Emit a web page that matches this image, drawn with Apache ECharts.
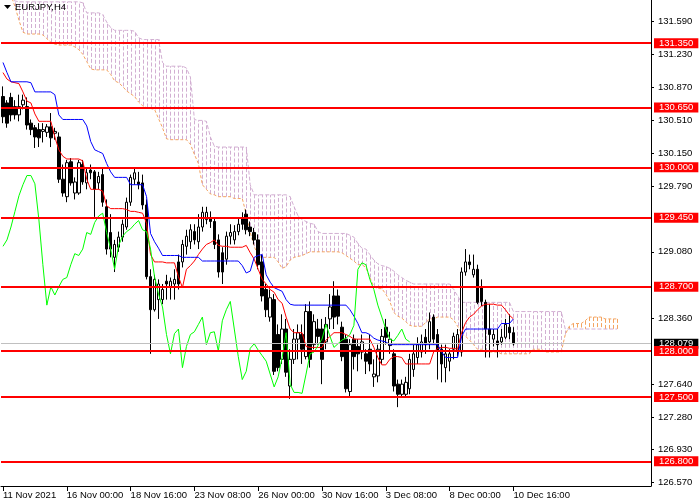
<!DOCTYPE html>
<html><head><meta charset="utf-8">
<script src="https://cdn.jsdelivr.net/npm/echarts@6/dist/echarts.min.js"></script>
<style>html,body{margin:0;padding:0;background:#fff}#c{width:700px;height:500px}</style>
</head><body><div id="c"></div>
<script>
const symbolTitle = 'EURJPY,H4';
const tickLabels = ['11 Nov 2021','16 Nov 00:00','18 Nov 16:00','23 Nov 08:00','26 Nov 00:00','30 Nov 16:00','3 Dec 08:00','8 Dec 00:00','10 Dec 16:00'];
const priceTicks = [131.590,131.230,130.870,130.510,130.150,129.790,129.080,128.360,127.640,127.280,126.930,126.570];
const levels = [131.350,130.650,130.000,129.450,128.700,128.000,127.500,126.800];
const lastPrice = 128.079;
// [open, close, low, high]
const candles = [
[130.77,130.55,130.48,130.88],[130.70,130.48,130.43,130.73],[130.76,130.57,130.50,130.81],[130.66,130.57,130.52,130.73],
[130.57,130.66,130.50,130.79],[130.68,130.73,130.63,130.79],[130.66,130.46,130.41,130.76],[130.48,130.41,130.35,130.52],
[130.43,130.33,130.21,130.46],[130.41,130.32,130.22,130.48],[130.39,130.41,130.27,130.48],[130.38,130.44,130.33,130.47],
[130.44,130.32,130.22,130.59],[130.37,130.39,130.30,130.43],[130.33,129.87,129.83,130.38],[129.87,129.72,129.68,130.03],
[129.68,130.05,129.62,130.08],[130.06,129.83,129.80,130.10],[129.72,129.84,129.65,129.89],[129.72,130.05,129.70,130.08],
[130.03,129.84,129.81,130.08],[129.83,129.94,129.76,130.00],[129.97,129.94,129.87,130.03],[129.95,129.76,129.46,129.97],
[129.83,129.90,129.76,129.95],[129.92,129.62,129.57,130.00],[129.57,129.11,129.05,129.65],[129.29,129.11,129.02,129.49],
[129.02,129.16,128.86,129.21],[129.13,129.24,129.08,129.30],[129.24,129.38,129.19,129.43],[129.35,129.62,129.32,129.67],
[129.62,129.89,129.58,129.92],[129.87,129.94,129.81,130.00],[129.84,129.81,129.76,129.95],[129.83,129.59,129.54,129.92],
[129.59,128.81,128.78,129.65],[128.81,128.45,127.97,128.89],[128.45,128.78,128.43,128.83],[128.56,128.73,128.35,128.78],
[128.56,128.67,128.51,128.73],[128.76,128.73,128.56,128.83],[128.70,128.76,128.56,128.80],[128.73,128.78,128.56,128.89],
[128.97,128.73,128.67,129.05],[128.97,129.16,128.91,129.21],[129.14,129.25,129.05,129.32],[129.19,129.32,129.11,129.38],
[129.30,129.21,129.16,129.38],[129.19,129.35,129.11,129.49],[129.35,129.51,129.30,129.57],[129.43,129.51,129.38,129.57],
[129.45,129.41,129.34,129.52],[129.41,129.16,129.11,129.45],[129.21,128.86,128.80,129.27],[129.07,128.86,128.73,129.13],
[129.00,129.25,128.94,129.30],[129.25,129.29,129.16,129.38],[129.21,129.30,129.16,129.37],[129.30,129.38,129.26,129.45],
[129.45,129.38,129.32,129.51],[129.49,129.32,129.27,129.54],[129.35,129.30,129.25,129.41],[129.29,129.21,129.16,129.34],
[129.21,128.94,128.89,129.27],[128.97,128.60,128.54,129.05],[128.67,128.45,128.37,128.73],[128.37,128.58,128.32,128.67],
[128.56,127.78,127.74,128.62],[128.18,127.82,127.78,128.29],[127.91,128.24,127.86,128.40],[128.24,127.77,127.72,128.35],
[127.62,127.91,127.48,128.02],[127.91,128.13,127.86,128.24],[128.13,128.20,127.91,128.29],[128.18,128.02,127.86,128.29],
[127.94,128.43,127.91,128.51],[128.43,127.91,127.82,128.54],[128.07,128.32,128.02,128.40],[128.24,128.16,128.07,128.35],
[128.24,127.91,127.64,128.35],[128.10,128.29,128.02,128.37],[128.35,128.48,128.24,128.62],[128.60,128.37,128.24,128.76],
[128.60,128.38,128.29,128.67],[128.26,127.94,127.89,128.32],[128.13,127.59,127.55,128.18],[127.56,128.07,127.50,128.13],
[128.13,127.94,127.80,128.18],[128.05,127.97,127.78,128.13],[127.99,128.10,127.91,128.18],[127.97,127.89,127.75,128.02],
[128.02,127.86,127.78,128.18],[127.72,127.75,127.61,127.91],[127.73,128.02,127.66,128.07],[127.91,128.16,127.86,128.24],
[128.26,128.15,128.07,128.35],[128.06,128.13,127.97,128.21],[127.97,127.62,127.56,128.02],[127.64,127.53,127.39,127.69],
[127.53,127.64,127.50,127.69],[127.53,127.66,127.50,127.72],[127.59,127.91,127.53,127.97],[127.80,127.97,127.72,128.07],
[127.93,128.07,127.86,128.15],[127.99,128.10,127.93,128.18],[128.15,128.07,127.97,128.24],[128.10,128.32,128.02,128.42],
[128.37,128.13,128.07,128.40],[128.18,128.00,127.69,128.24],[128.02,127.86,127.66,128.07],[127.82,127.97,127.66,128.07],
[127.89,127.97,127.78,128.02],[128.02,128.16,127.91,128.20],[128.00,128.18,127.94,128.24],[127.99,128.86,127.94,128.91],
[128.86,128.97,128.82,129.11],[128.97,128.94,128.89,129.05],[128.83,128.89,128.80,129.05],[128.89,128.53,128.51,128.94],
[128.69,128.54,128.49,128.78],[128.53,128.24,127.93,128.56],[128.24,128.18,127.93,128.51],[128.13,128.18,128.05,128.24],
[128.11,128.07,127.93,128.24],[128.10,128.15,128.07,128.24],[128.15,128.29,128.13,128.35],[128.26,128.20,128.13,128.40],
[128.20,128.079,128.06,128.26]
];
const tenkan = [
131.03,130.96,130.93,130.92,130.91,130.82,130.72,130.70,130.58,130.50,
130.50,130.50,130.50,130.33,130.19,130.12,130.09,130.09,130.09,130.09,
130.07,129.87,129.76,129.76,129.76,129.74,129.58,129.55,129.55,129.55,
129.55,129.54,129.52,129.52,129.51,129.50,129.39,129.05,128.97,128.97,
128.97,128.96,128.96,128.96,128.81,128.69,128.89,128.93,128.98,129.05,
129.11,129.16,129.18,129.21,129.15,129.14,129.14,129.13,129.13,129.13,
129.13,129.15,129.07,129.00,128.89,128.78,128.73,128.67,128.64,128.56,
128.52,128.37,128.24,128.20,128.20,128.20,128.05,128.04,128.04,128.04,
128.04,128.12,128.16,128.20,128.20,128.20,128.18,128.16,128.13,128.13,
128.13,128.13,128.13,128.04,127.93,127.85,127.85,127.91,127.94,127.94,
127.93,127.86,127.86,127.86,127.86,127.86,127.86,127.86,127.99,128.03,
128.04,128.04,128.03,128.03,128.02,128.20,128.31,128.37,128.40,128.45,
128.49,128.51,128.51,128.51,128.50,128.50,128.45,128.39,128.35
];
const kijun = [
131.14,131.03,130.93,130.93,130.93,130.93,130.93,130.92,130.82,130.82,
130.82,130.82,130.82,130.79,130.57,130.52,130.52,130.52,130.52,130.52,
130.52,130.45,130.28,130.19,130.17,130.15,130.04,129.95,129.89,129.89,
129.89,129.89,129.81,129.81,129.81,129.81,129.68,129.28,129.19,129.12,
129.04,129.04,129.04,129.04,129.04,129.02,129.02,129.02,129.02,129.02,
128.98,128.98,128.98,128.98,128.98,128.98,128.98,128.98,128.98,128.98,
128.93,128.85,128.87,129.02,129.04,129.05,128.83,128.75,128.69,128.67,
128.65,128.56,128.51,128.50,128.50,128.50,128.50,128.50,128.50,128.50,
128.50,128.50,128.50,128.50,128.50,128.50,128.50,128.45,128.38,128.30,
128.20,128.20,128.18,128.14,128.12,128.11,128.10,128.07,128.07,128.07,
128.07,128.07,128.07,128.07,128.07,128.07,128.07,128.07,128.07,128.07,
127.99,127.93,127.93,127.93,127.93,128.16,128.24,128.24,128.24,128.24,
128.24,128.24,128.24,128.24,128.24,128.30,128.30,128.30,128.35
];
const chikou = [
129.14,129.21,129.35,129.52,129.69,129.81,129.91,129.91,129.82,129.43,
128.94,128.50,128.70,128.61,128.70,128.78,128.80,128.94,129.06,129.04,
129.11,129.29,129.27,129.40,129.47,129.50,129.29,129.11,128.89,129.15,
129.25,129.30,129.33,129.38,129.42,129.32,129.30,129.11,128.81,128.62,
128.48,128.18,127.97,128.19,128.24,127.82,128.05,128.18,128.21,128.29,
128.37,128.07,128.20,128.21,128.00,128.33,128.45,128.54,128.24,127.94,
127.69,127.78,128.03,128.08,128.01,127.95,127.89,127.75,127.61,127.72,
127.93,128.20,127.64,127.55,127.55,127.54,127.75,127.97,127.99,128.06,
128.13,128.29,128.16,128.04,128.08,128.12,128.14,128.18,128.28,128.89,
128.96,128.94,128.78,128.67,128.50,128.37,128.24,128.13,128.11,128.17,
128.24,128.13,128.10
];
const spanA = [
132.09,131.98,131.87,131.75,131.60,131.47,131.45,131.45,131.45,131.45,
131.44,131.40,131.36,131.34,131.33,131.33,131.33,131.33,131.31,131.28,
131.23,131.15,131.07,131.06,131.06,131.06,131.06,131.01,130.94,130.92,
130.88,130.83,130.80,130.77,130.71,130.67,130.65,130.64,130.63,130.53,
130.43,130.31,130.30,130.30,130.30,130.30,130.30,130.25,130.14,130.04,
129.81,129.76,129.71,129.70,129.68,129.68,129.68,129.68,129.66,129.66,
129.66,129.49,129.29,129.14,129.03,129.02,129.02,129.02,129.02,128.97,
128.90,128.92,128.99,129.02,129.03,129.04,129.06,129.08,129.08,129.08,
129.08,129.08,129.08,129.08,129.08,129.07,129.04,129.01,128.98,128.94,
128.94,128.91,128.80,128.70,128.68,128.68,128.62,128.54,128.42,128.38,
128.36,128.32,128.28,128.27,128.27,128.27,128.31,128.35,128.35,128.37,
128.37,128.37,128.37,128.34,128.27,128.19,128.16,128.12,128.07,128.02,
128.02,127.99,127.99,127.99,127.99,127.97,127.97,127.97,127.97,127.97,
127.97,127.97,127.97,128.02,128.02,128.02,127.99,127.99,127.99,127.99,
127.99,128.18,128.27,128.30,128.30,128.30,128.33,128.37,128.37,128.37,
128.37,128.35,128.35,128.35,128.35
];
const spanB = [
131.87,131.85,131.83,131.81,131.80,131.80,131.80,131.80,131.80,131.80,
131.80,131.80,131.80,131.80,131.80,131.80,131.80,131.80,131.80,131.80,
131.79,131.68,131.68,131.68,131.68,131.66,131.58,131.52,131.49,131.49,
131.49,131.49,131.49,131.48,131.41,131.39,131.39,131.39,131.39,131.39,
131.14,131.10,131.10,131.10,131.10,131.10,131.08,130.98,130.52,130.51,
130.51,130.50,130.33,130.23,130.22,130.22,130.22,130.22,130.22,130.22,
130.22,130.22,129.81,129.70,129.70,129.70,129.70,129.70,129.70,129.70,
129.70,129.70,129.68,129.57,129.47,129.43,129.41,129.39,129.38,129.30,
129.28,129.28,129.28,129.28,129.28,129.28,129.28,129.26,129.24,129.17,
129.12,129.11,129.05,128.99,128.95,128.93,128.92,128.90,128.87,128.83,
128.80,128.77,128.75,128.73,128.73,128.73,128.73,128.73,128.73,128.73,
128.73,128.73,128.73,128.67,128.60,128.53,128.53,128.53,128.53,128.53,
128.53,128.53,128.53,128.53,128.53,128.53,128.53,128.53,128.43,128.43,
128.43,128.43,128.43,128.43,128.43,128.43,128.43,128.43,128.43,128.43,
128.43,128.24,128.24,128.24,128.24,128.24,128.24,128.24,128.24,128.24,
128.24,128.24,128.24,128.24,128.24
];
const barsPerTick = 16;
const totalSlots = 163;

const FONT = 'Liberation Sans';
const cats = Array.from({length: totalSlots}, (_, i) => String(i));
const showTick = (i) => i % barsPerTick === 0 && i / barsPerTick < tickLabels.length;
const cloudData = spanA.map((a, i) => [i, a, spanB[i]]);

const chart = echarts.init(document.getElementById('c'), null, {renderer: 'canvas'});
chart.setOption({
  animation: false,
  backgroundColor: '#ffffff',
  textStyle: {fontFamily: FONT},
  grid: {left: -1, right: 49, top: 0, bottom: 13, containLabel: false},
  graphic: [
    {type: 'polygon', shape: {points: [[4, 5], [11, 5], [7.5, 9]]}, style: {fill: '#000'}, z: 100},
    {type: 'text', left: 15, top: 2, style: {text: symbolTitle, fill: '#000', font: '9.5px "Liberation Sans"'}, z: 100}
  ],
  xAxis: {
    type: 'category', data: cats, boundaryGap: true,
    axisLine: {show: true, lineStyle: {color: '#000', width: 1}},
    axisTick: {show: true, alignWithLabel: true, interval: (i) => showTick(i), length: 5, lineStyle: {color: '#000'}},
    axisLabel: {
      show: true, interval: (i) => showTick(i), align: 'left', margin: 4,
      fontSize: 9.5, color: '#000', fontFamily: FONT,
      formatter: (v, i) => showTick(i) ? tickLabels[i / barsPerTick] : ''
    },
    splitLine: {show: false}
  },
  yAxis: {
    type: 'value', position: 'right', min: 126.532, max: 131.82, scale: true,
    axisLine: {show: true, lineStyle: {color: '#000', width: 1}},
    axisTick: {show: true, length: 3, customValues: priceTicks, lineStyle: {color: '#000'}},
    axisLabel: {show: true, customValues: priceTicks, margin: 7, fontSize: 9.5, color: '#000', fontFamily: FONT,
      formatter: (v) => v.toFixed(3)},
    splitLine: {show: false}
  },
  series: [
    {
      type: 'custom', name: 'cloud', z: 1, clip: true,
      data: cloudData, encode: {x: 0, y: [1, 2]},
      renderItem: function (params, api) {
        const i = api.value(0), a = api.value(1), b = api.value(2);
        const p1 = api.coord([i, a]);
        const p2 = api.coord([i, b]);
        const x = Math.round(p1[0]) + 0.5;
        return {type: 'line', shape: {x1: x, y1: p1[1], x2: x, y2: p2[1]},
          style: {stroke: b >= a ? '#D2AFD2' : '#F4A460', lineWidth: 1, lineDash: [4, 2]}};
      }
    },
    {type: 'line', name: 'Senkou A', data: spanA, z: 2, showSymbol: false, symbol: 'none',
      lineStyle: {color: '#F4A460', width: 1, type: [3, 2]}},
    {type: 'line', name: 'Senkou B', data: spanB, z: 2, showSymbol: false, symbol: 'none',
      lineStyle: {color: '#D2AFD2', width: 1, type: [4, 2]}},
    {type: 'line', name: 'price', data: [], z: 2,
      markLine: {silent: true, symbol: ['none', 'none'], animation: false,
        lineStyle: {color: '#C0C0C0', width: 1, type: 'solid'},
        label: {show: true, position: 'end', distance: 3, formatter: () => lastPrice.toFixed(3),
          color: '#fff', backgroundColor: '#000', padding: [1, 5, 0, 5], fontSize: 9.5, lineHeight: 9, fontFamily: FONT},
        data: [{yAxis: lastPrice}]}},
    {type: 'candlestick', name: 'EURJPY', data: candles.map(c => [c[0], c[1], c[2], c[3]]), z: 3, barWidth: 3,
      itemStyle: {color: '#ffffff', color0: '#000000', borderColor: '#000000', borderColor0: '#000000', borderWidth: 1}},
    {type: 'line', name: 'Tenkan', data: tenkan, z: 4, showSymbol: false, symbol: 'none',
      lineStyle: {color: '#FF0000', width: 1}},
    {type: 'line', name: 'Kijun', data: kijun, z: 4, showSymbol: false, symbol: 'none',
      lineStyle: {color: '#0000FF', width: 1}},
    {type: 'line', name: 'Chikou', data: chikou, z: 4, showSymbol: false, symbol: 'none',
      lineStyle: {color: '#00FF00', width: 1}},
    {type: 'line', name: 'levels', data: [], z: 10,
      markLine: {silent: true, symbol: ['none', 'none'], animation: false,
        lineStyle: {color: '#FF0000', width: 2, type: 'solid'},
        label: {show: true, position: 'end', distance: 3, formatter: (p) => Number(p.value).toFixed(3),
          color: '#fff', backgroundColor: '#FF0000', padding: [1, 5, 0, 5], fontSize: 9.5, lineHeight: 9, fontFamily: FONT},
        data: levels.map(v => ({yAxis: v}))}}
  ]
});
</script>
</body></html>
